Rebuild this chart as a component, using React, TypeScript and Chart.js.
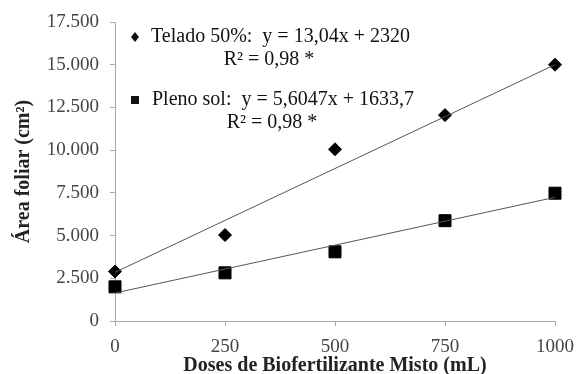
import React, { useEffect, useRef } from "react";
import { Chart, registerables } from "chart.js";

Chart.register(...registerables);

const doses = [0, 250, 500, 750, 1000];
const teladoValues = [2900, 5030, 10050, 12050, 15000];
const plenoValues = [2000, 2820, 4050, 5870, 7480];
const teladoTrendX = [0, 1000];
const teladoTrendY = [2850, 15000];
const plenoTrendX = [0, 1000];
const plenoTrendY = [1640, 7240];
const teladoLabel = "Telado 50%:  y = 13,04x + 2320";
const plenoLabel = "Pleno sol:  y = 5,6047x + 1633,7";
const r2Label = "R² = 0,98 *";
const xTitle = "Doses de Biofertilizante Misto (mL)";
const yTitle = "Área foliar (cm²)";

const FONT = "'Liberation Serif', 'DejaVu Serif', serif";

const annotationPlugin = {
  id: "eqAnnotations",
  afterDraw(chart: any) {
    const ctx = chart.ctx;
    ctx.save();
    ctx.fillStyle = "#111";
    ctx.textBaseline = "middle";
    ctx.font = `20px ${FONT}`;
    // diamond marker
    const dx = 135, dy = 37;
    ctx.beginPath();
    ctx.moveTo(dx, dy - 5);
    ctx.lineTo(dx + 4, dy);
    ctx.lineTo(dx, dy + 5);
    ctx.lineTo(dx - 4, dy);
    ctx.closePath();
    ctx.fill();
    ctx.textAlign = "left";
    ctx.fillText(teladoLabel, 151, 37);
    ctx.textAlign = "center";
    ctx.fillText(r2Label, 269, 60);
    // square marker
    ctx.fillRect(131, 96, 8, 8);
    ctx.textAlign = "left";
    ctx.fillText(plenoLabel, 152, 100);
    ctx.textAlign = "center";
    ctx.fillText(r2Label, 272, 123);
    ctx.restore();
  },
};

function fmt(v: number) {
  return Number(v).toLocaleString("de-DE");
}

export default function App() {
  const ref = useRef<HTMLCanvasElement | null>(null);
  useEffect(() => {
    if (!ref.current) return;
    const chart = new Chart(ref.current, {
      type: "scatter",
      data: {
        datasets: [
          {
            label: "Telado trend",
            data: teladoTrendX.map((x, i) => ({ x, y: teladoTrendY[i] })),
            showLine: true,
            borderColor: "#555",
            borderWidth: 1,
            pointRadius: 0,
            clip: false,
          },
          {
            label: "Pleno trend",
            data: plenoTrendX.map((x, i) => ({ x, y: plenoTrendY[i] })),
            showLine: true,
            borderColor: "#555",
            borderWidth: 1,
            pointRadius: 0,
            clip: false,
          },
          {
            label: "Telado 50%",
            data: doses.map((x, i) => ({ x, y: teladoValues[i] })),
            pointStyle: "rectRot",
            pointRadius: 6.5,
            backgroundColor: "#000",
            borderColor: "#000",
            clip: false,
          },
          {
            label: "Pleno sol",
            data: doses.map((x, i) => ({ x, y: plenoValues[i] })),
            pointStyle: "rect",
            pointRadius: 8.5,
            backgroundColor: "#000",
            borderColor: "#000",
            clip: false,
          },
        ],
      },
      options: {
        responsive: false,
        animation: false,
        layout: { padding: { left: 12, right: 21, top: 22, bottom: 0 } },
        plugins: { legend: { display: false }, tooltip: { enabled: false } },
        scales: {
          x: {
            type: "linear",
            min: 0,
            max: 1000,
            afterFit: (s: any) => {
              s.height = 53;
              s.paddingLeft = 0;
              s.paddingRight = 0;
            },
            ticks: {
              stepSize: 250,
              color: "#444",
              font: { family: FONT, size: 19 },
              callback: (v: any) => String(v),
              padding: 10,
            },
            grid: { drawOnChartArea: false, color: "#aaa", tickLength: 5 },
            border: { color: "#aaa", dash: [2, 2] },
            title: {
              display: true,
              text: xTitle,
              color: "#222",
              font: { family: FONT, size: 20, weight: "bold" },
              padding: { top: 0, bottom: -4 },
            },
          },
          y: {
            type: "linear",
            min: 0,
            max: 17500,
            afterFit: (s: any) => {
              s.width = 103;
              s.paddingTop = 0;
              s.paddingBottom = 0;
            },
            ticks: {
              stepSize: 2500,
              color: "#444",
              font: { family: FONT, size: 19 },
              callback: (v: any) => fmt(v),
              padding: 11,
            },
            grid: { drawOnChartArea: false, color: "#aaa", tickLength: 5 },
            border: { color: "#aaa", dash: [2, 2] },
            title: {
              display: true,
              text: yTitle,
              color: "#222",
              font: { family: FONT, size: 20, weight: "bold" },
              padding: { top: 0, bottom: 4 },
            },
          },
        },
      },
      plugins: [annotationPlugin],
    } as any);
    return () => chart.destroy();
  }, []);
  return (
    <div style={{ position: "absolute", left: 0, top: 0, width: 576, height: 374, background: "#fff" }}>
      <canvas ref={ref} width={576} height={374} style={{ display: "block" }} />
    </div>
  );
}
